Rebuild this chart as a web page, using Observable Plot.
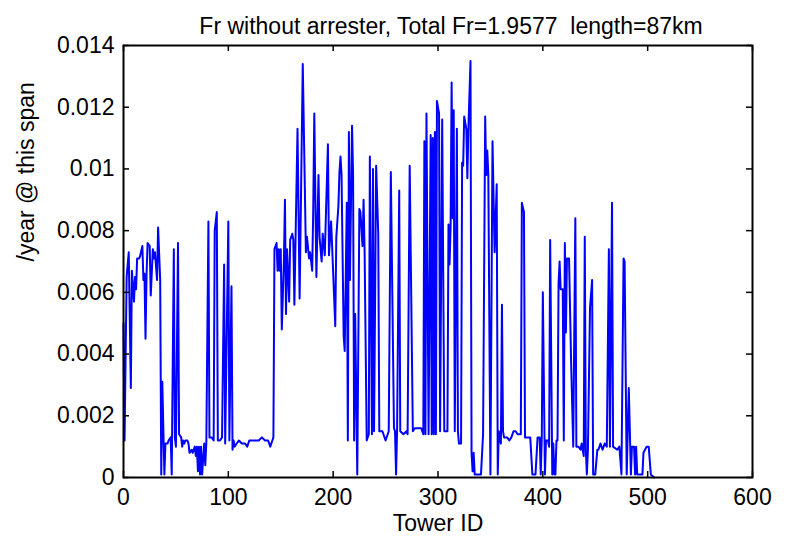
<!DOCTYPE html>
<html>
<head>
<meta charset="utf-8">
<script src="https://cdn.jsdelivr.net/npm/d3@7"></script>
<script src="https://cdn.jsdelivr.net/npm/@observablehq/plot@0.6"></script>
<style>
  html, body { margin: 0; padding: 0; background: #fff; }
  svg text { white-space: pre; }
</style>
</head>
<body>
<div id="chart"></div>
<script>
// ---- data ----
const chartTitle = "Fr without arrester, Total Fr=1.9577  length=87km";
const xLabel = "Tower ID";
const yLabel = "/year @ this span";
const xTicks = [0, 100, 200, 300, 400, 500, 600];
const yTicks = [0, 0.002, 0.004, 0.006, 0.008, 0.01, 0.012, 0.014];
const yTickLabels = ["0", "0.002", "0.004", "0.006", "0.008", "0.01", "0.012", "0.014"];

const towerId = [
  0,1,3,5,7,8,10,11,12,13,15,16,18,19,20,21,22,23,25,26,28,29,30,32,33,35,36,37,39,40,
  42,43,45,46,48,49,50,52,53,55,56,57,58,59,61,62,63,65,66,68,69,70,71,72,73,74,75,77,78,79,
  81,82,84,86,87,89,90,92,94,96,97,100,101,103,104,105,106,108,110,113,116,118,120,122,126,129,132,135,138,140,
  142,143,144,146,147,148,149,150,151,153,154,155,156,158,159,161,162,163,166,168,171,174,175,177,178,180,181,182,184,186,
  187,189,190,192,195,196,198,199,202,203,205,206,207,208,210,211,213,214,215,216,218,219,220,221,223,225,226,228,229,230,
  232,234,235,237,238,239,241,243,244,247,250,253,255,258,259,260,261,263,264,267,270,271,273,276,278,281,284,286,287,288,
  289,291,293,294,295,296,297,298,299,301,302,304,306,309,310,311,312,313,314,315,316,318,319,320,322,323,324,325,327,328,
  329,331,332,333,334,335,341,343,345,346,347,348,350,352,354,356,357,358,360,361,362,363,366,368,370,372,374,376,379,380,
  382,383,385,388,390,393,395,397,398,399,400,402,403,405,406,407,409,410,411,412,413,414,415,416,417,419,420,421,422,423,
  425,427,429,431,432,434,436,437,439,440,441,442,443,445,447,448,450,452,453,455,457,459,461,463,464,466,467,471,473,475,
  477,478,480,482,484,485,487,488,489,490,495,496,499,501,503,506
];
const frValue = [
  0.0050,0.0012,0.0065,0.0073,0.0029,0.0067,0.0057,0.0065,0.0061,0.0071,0.0071,0.0072,0.0075,0.0064,0.0066,0.0045,0.0066,0.0076,0.0075,0.0059,0.0074,0.0071,0.0073,0.0064,0.0081,0.0064,0.0001,0.0031,0.0001,0.0011,
  0.0011,0.0012,0.0013,0.0001,0.0074,0.0013,0.0010,0.0076,0.0014,0.0013,0.0010,0.0012,0.0011,0.0012,0.0012,0.0011,0.0008,0.0009,0.0008,0.0010,0.0007,0.0010,0.0002,0.0010,0.0001,0.0010,0.0001,0.0011,0.0004,0.0011,
  0.0083,0.0013,0.0013,0.0012,0.0080,0.0086,0.0012,0.0012,0.0013,0.0069,0.0011,0.0083,0.0012,0.0062,0.0009,0.0012,0.0010,0.0011,0.0012,0.0011,0.0011,0.0010,0.0012,0.0012,0.0012,0.0012,0.0013,0.0012,0.0012,0.0010,
  0.0012,0.0013,0.0074,0.0076,0.0067,0.0074,0.0067,0.0074,0.0048,0.0070,0.0090,0.0053,0.0074,0.0057,0.0077,0.0079,0.0077,0.0056,0.0113,0.0058,0.0134,0.0073,0.0078,0.0071,0.0073,0.0067,0.0087,0.0118,0.0065,0.0098,
  0.0078,0.0070,0.0079,0.0072,0.0108,0.0072,0.0083,0.0075,0.0049,0.0078,0.0088,0.0099,0.0104,0.0098,0.0046,0.0041,0.0089,0.0012,0.0112,0.0064,0.0114,0.0098,0.0012,0.0053,0.0001,0.0087,0.0086,0.0075,0.0090,0.0073,
  0.0012,0.0014,0.0104,0.0014,0.0100,0.0015,0.0101,0.0079,0.0015,0.0015,0.0012,0.0015,0.0099,0.0016,0.0015,0.0001,0.0016,0.0093,0.0015,0.0014,0.0015,0.0014,0.0101,0.0015,0.0016,0.0016,0.0016,0.0014,0.0109,0.0014,
  0.0118,0.0014,0.0111,0.0014,0.0110,0.0014,0.0112,0.0014,0.0122,0.0118,0.0015,0.0116,0.0015,0.0015,0.0082,0.0069,0.0081,0.0128,0.0084,0.0119,0.0015,0.0113,0.0015,0.0011,0.0011,0.0102,0.0101,0.0117,0.0113,0.0097,
  0.0113,0.0135,0.0008,0.0002,0.0008,0.0001,0.0001,0.0014,0.0117,0.0098,0.0106,0.0098,0.0001,0.0109,0.0073,0.0095,0.0001,0.0015,0.0011,0.0056,0.0015,0.0013,0.0013,0.0012,0.0013,0.0015,0.0015,0.0014,0.0014,0.0089,
  0.0086,0.0013,0.0013,0.0013,0.0001,0.0001,0.0013,0.0013,0.0001,0.0013,0.0060,0.0001,0.0012,0.0012,0.0010,0.0077,0.0001,0.0011,0.0001,0.0001,0.0012,0.0012,0.0063,0.0070,0.0061,0.0061,0.0012,0.0076,0.0047,0.0071,
  0.0071,0.0037,0.0010,0.0084,0.0010,0.0010,0.0009,0.0011,0.0007,0.0078,0.0009,0.0001,0.0009,0.0055,0.0064,0.0001,0.0001,0.0009,0.0009,0.0011,0.0009,0.0011,0.0010,0.0074,0.0010,0.0089,0.0010,0.0009,0.0010,0.0001,
  0.0071,0.0070,0.0001,0.0029,0.0001,0.0010,0.0010,0.0001,0.0010,0.0001,0.0001,0.0008,0.0010,0.0010,0.0001,0.0000
];

const series = towerId.map((t, i) => ({tower: t, fr: frValue[i]}));

// ---- layout ----
const W = 789, H = 545;
const mL = 123, mR = 37, mT = 45, mB = 68;
const plotW = W - mL - mR, plotH = H - mT - mB;
const tickLen = 6;
const font = "'Liberation Sans', Arial, Helvetica, sans-serif";
const fs = 23;

const chart = Plot.plot({
  width: W,
  height: H,
  marginLeft: mL,
  marginRight: mR,
  marginTop: mT,
  marginBottom: mB,
  style: {fontFamily: font, fontSize: fs + "px", color: "#000", background: "#fff", overflow: "visible"},
  x: {domain: [0, 600]},
  y: {domain: [0, 0.014]},
  marks: [
    Plot.line(series, {x: "tower", y: "fr", stroke: "#0000ff", strokeWidth: 2}),
    // inward ticks on all four sides
    Plot.ruleX(xTicks, {insetTop: plotH - tickLen, stroke: "#000", strokeWidth: 1.5}),
    Plot.ruleX(xTicks, {insetBottom: plotH - tickLen, stroke: "#000", strokeWidth: 1.5}),
    Plot.ruleY(yTicks, {insetRight: plotW - tickLen, stroke: "#000", strokeWidth: 1.5}),
    Plot.ruleY(yTicks, {insetLeft: plotW - tickLen, stroke: "#000", strokeWidth: 1.5}),
    Plot.frame({stroke: "#000", strokeWidth: 2}),
    Plot.axisX({ticks: xTicks, tickSize: 0, tickPadding: 11, label: null, fontSize: fs, tickFormat: d => String(d)}),
    Plot.axisY({ticks: yTicks, tickSize: 0, tickPadding: 9, label: null, fontSize: fs,
      tickFormat: d => yTickLabels[yTicks.indexOf(d)]}),
    Plot.text([xLabel], {frameAnchor: "bottom", dy: 53, fontSize: fs, fill: "#000"}),
    Plot.text([yLabel], {frameAnchor: "left", rotate: -90, dx: -97, fontSize: fs, fill: "#000"}),
    Plot.text([chartTitle], {frameAnchor: "top", dy: -28, dx: 13, fontSize: fs, fill: "#000"})
  ]
});
document.getElementById("chart").appendChild(chart);
</script>
</body>
</html>
